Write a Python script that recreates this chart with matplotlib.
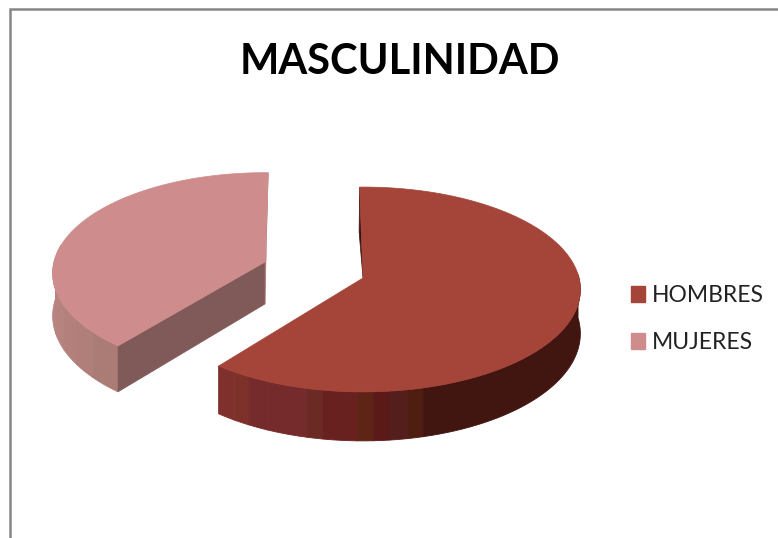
import numpy as np
import matplotlib.pyplot as plt
from matplotlib.patches import Patch

categorias = ["HOMBRES", "MUJERES"]
valores = [60.7, 39.3]
titulo = "MASCULINIDAD"

# estilo
color_top = ["#A5453A", "#CE8D8C"]
bandas_h = [231, 237.5, 241.6, 246.7, 256.6, 260.5, 268.6, 272.4, 276.4, 280.5, 284.4, 362]
colores_h = ["#80302C", "#7D3129", "#752A2C", "#752B2B", "#6C2A24", "#69211F", "#5E2415",
             "#5B1A18", "#531E1C", "#501E10", "#411510"]
bandas_m = [170, 196, 205, 213, 221, 232]
colores_m = ["#B98480", "#B6837E", "#B3807B", "#B07F79", "#AB7C76"]

C = 0.112   # perspectiva
A = -70.0


def proj(theta, cx, cy, rx):
    t = np.radians(theta)
    u, v = np.cos(t), np.sin(t)
    w = 1 + C * v
    return cx + rx * u / w, (cy + A * v) / w


def prof(theta, d):
    return d / (1 + C * np.sin(np.radians(theta)))


def pared(t0, t1, cx, cy, rx, d, color):
    th = np.linspace(t0, t1, 40)
    x, y = proj(th, cx, cy, rx)
    yb = y + prof(th, d)
    ax.fill(np.r_[x, x[::-1]], np.r_[y, yb[::-1]], color=color, lw=0.6, zorder=2)


fig = plt.figure(figsize=(7.78, 5.38), dpi=100)
ax = fig.add_axes([0, 0, 1, 1])
ax.set_xlim(0, 778)
ax.set_ylim(538, 0)
ax.axis("off")

# marco
ax.plot([10.5, 10.5, 778], [538, 9, 9], color="#868686", lw=1.8, solid_joinstyle="miter")

total = sum(valores)
ang_h = 360 * valores[0] / total
ang_m = 360 * valores[1] / total

# HOMBRES
cx, cy, rx, d = 363, 278, 216, 43.5
ini = 91
fin = ini - ang_h + 360
for i in range(len(colores_h)):
    t0 = max(bandas_h[i], fin)
    pared(t0, bandas_h[i + 1], cx, cy, rx, d, colores_h[i])
xo, yo = proj(ini, cx, cy, rx)
ax.fill([xo, xo - 0.5, cx], [yo, yo + 45, cy], color="#3A1210", lw=0.5, zorder=2)
th = np.linspace(fin - 360, ini, 300)
x, y = proj(th, cx, cy, rx)
ax.fill(np.r_[cx, x], np.r_[cy, y], color=color_top[0], lw=0.5, zorder=3)

# MUJERES
cx, cy, rx, d = 265, 262, 211, 42
fin = 89
ini = fin + ang_m
xa, ya = proj(ini, cx, cy, rx)
for i in range(len(colores_m)):
    t1 = min(bandas_m[i + 1], ini)
    pared(bandas_m[i], t1, cx, cy, rx, d, colores_m[i])
ax.fill([cx, cx, xa, xa], [cy, cy + d, ya + prof(ini, d), ya], color="#805959", lw=0.5, zorder=2)
xo, yo = proj(fin, cx, cy, rx)
ax.fill([xo, cx, cx], [yo, cy, cy + d], color="#B27B7D", lw=0.3, zorder=2)
th = np.linspace(fin, ini, 300)
x, y = proj(th, cx, cy, rx)
ax.fill(np.r_[cx, x], np.r_[cy, y], color=color_top[1], lw=0.5, zorder=3)

ax.text(399.5, 62, titulo, ha="center", va="center", fontsize=30, fontweight="bold",
        family="Lato", color="black")

handles = [Patch(color=c) for c in color_top]
ax.legend(handles, categorias, loc="center left", bbox_to_anchor=(631 / 778, 1 - 319 / 538),
          frameon=False, prop={"family": "Lato", "size": 16.5}, labelcolor="#222222",
          handlelength=0.63, handleheight=0.65, handletextpad=0.3, labelspacing=1.13,
          borderpad=0, borderaxespad=0)

plt.savefig("out.png", dpi=100)
